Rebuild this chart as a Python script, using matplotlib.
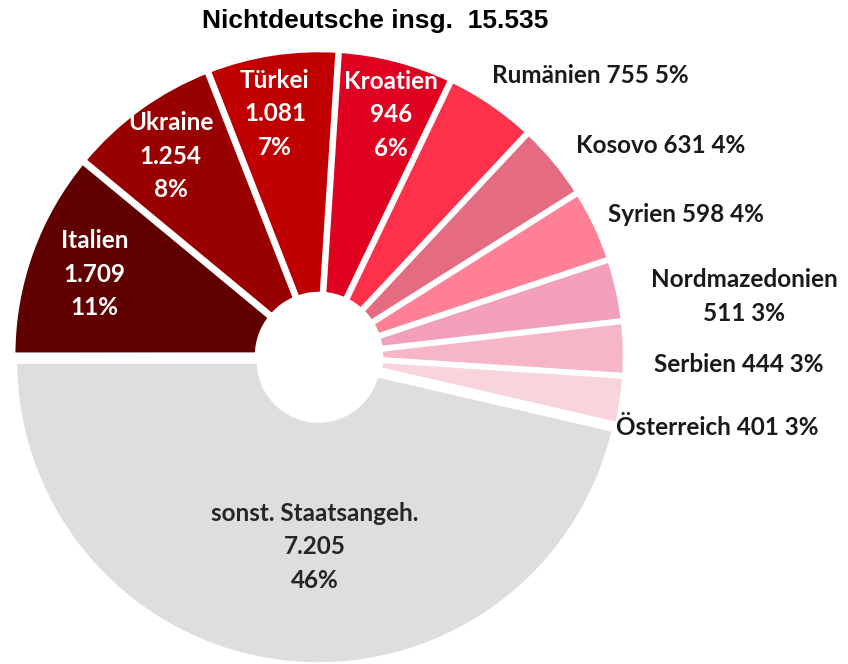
#!/usr/bin/env python3
"""Nichtdeutsche nach Staatsangehörigkeit - Ringdiagramm."""
import numpy as np
import matplotlib

matplotlib.use("Agg")
import matplotlib.pyplot as plt

# data, clockwise from 12 o'clock
LANDER = ["Kroatien", "Rumänien", "Kosovo", "Syrien", "Nordmazedonien",
          "Serbien", "Österreich", "sonst. Staatsangeh.", "Italien",
          "Ukraine", "Türkei"]
ANZAHL = [946, 755, 631, 598, 511, 444, 401, 7205, 1709, 1254, 1081]
ANTEIL = [6, 5, 4, 4, 3, 3, 3, 46, 11, 8, 7]
TITEL = "Nichtdeutsche insg.  15.535"

FARBEN = ["#e00020", "#ff3049", "#e56b80", "#ff8097", "#f2a0b9",
          "#f7b6c7", "#f8d4dd", "#dedede", "#600000", "#990000", "#c00000"]

# label layout: inside (True) or outside, radius in px, angle shift (deg, clockwise)
INNEN = [True, False, False, False, False, False, False, True, True, True, True]
LAB_R = [252, 330, 332, 322, 337, 335, 305, 191, 239, 249, 246]
LAB_DT = [2.0, -2.7, 0.2, -0.7, 2.3, 2.9, 5.1, -5.3, 0.2, -0.7, -1.5]

W, H = 848, 664
CX, CY = 319, H - 356
LW = 4.0
R = 304          # visible radius ~301 after the white edge
HOLE = 59

fig = plt.figure(figsize=(W / 100, H / 100), dpi=100)
ax = fig.add_axes([0, 0, 1, 1])
ax.axis("off")

# pie offsets wedges by the explode value in data units (px here)
explode = [5 if n.startswith("sonst") else 2.5 for n in LANDER]
wedges, _ = ax.pie(ANZAHL, colors=FARBEN, startangle=86.3, counterclock=False,
                   radius=R, center=(CX, CY), explode=explode,
                   wedgeprops=dict(width=R - HOLE, edgecolor="white", linewidth=LW))
ax.set_xlim(0, W)
ax.set_ylim(0, H)
ax.set_aspect("equal")

FONT = "Lato"
FS = 17.5
for w, name, n, p, inn, r, dt in zip(wedges, LANDER, ANZAHL, ANTEIL, INNEN,
                                     LAB_R, LAB_DT):
    mid = np.deg2rad((w.theta1 + w.theta2) / 2 - dt)
    x = CX + r * np.cos(mid)
    y = CY + r * np.sin(mid)
    val = f"{n:,}".replace(",", ".")
    if inn:
        col = "#262626" if name.startswith("sonst") else "white"
        ax.text(x, y, f"{name}\n{val}\n{p}%", ha="center", va="center",
                fontsize=FS, fontweight="bold", color=col, family=FONT,
                linespacing=1.55)
    elif name == "Nordmazedonien":
        ax.text(x, y, f"{name}\n{val} {p}%", ha="left", va="center",
                multialignment="center", fontsize=FS, fontweight="bold",
                color="#1a1a1a", family=FONT, linespacing=1.55)
    else:
        ax.text(x, y, f"{name} {val} {p}%", ha="left", va="center",
                fontsize=FS, fontweight="bold", color="#1a1a1a", family=FONT)

ax.text(375, H - 21, TITEL, ha="center", va="center", fontsize=19,
        fontweight="bold", color="black", family="Liberation Sans")

fig.savefig("out.png", dpi=100, facecolor="white")
